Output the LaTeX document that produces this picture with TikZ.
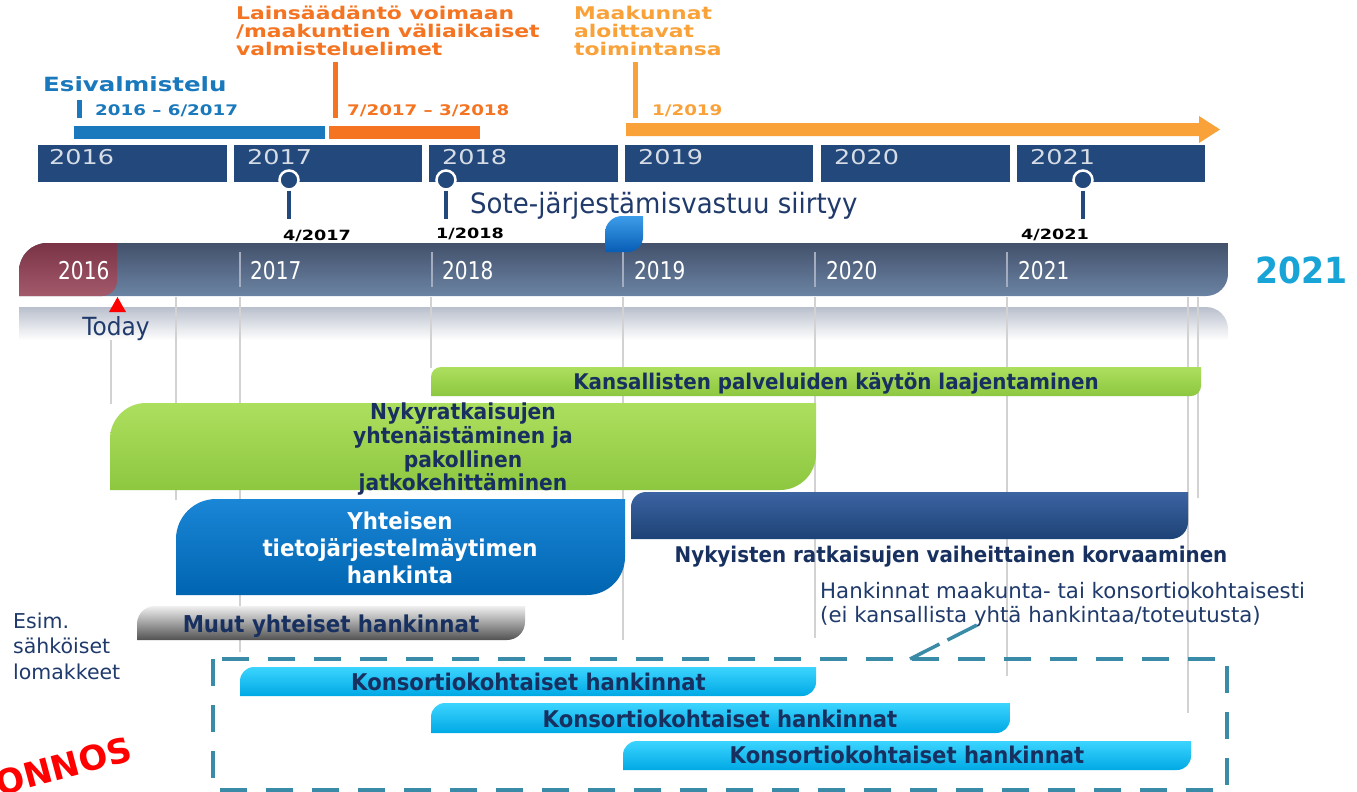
\documentclass[tikz,border=0pt]{standalone}
\usepackage{fontspec}
\setmainfont{DejaVu Sans}
\newfontfamily\topfont{DejaVu Sans}[FakeStretch=1.25]
\newfontfamily\condfont{DejaVu Sans}[FakeStretch=0.93]
\newfontfamily\barfont{DejaVu Sans}[FakeStretch=0.92]
\newfontfamily\narrowfont{DejaVu Sans}[FakeStretch=0.82]
\newfontfamily\bigfont{DejaVu Sans}[FakeStretch=0.92]
\definecolor{navy}{HTML}{17305F}
\definecolor{navytxt}{HTML}{1F3A6B}
\definecolor{topblue}{HTML}{1A78BC}
\definecolor{dorange}{HTML}{F47421}
\definecolor{lorange}{HTML}{F9A23A}
\definecolor{yearbox}{HTML}{23497C}
\definecolor{yeartxt}{HTML}{D6DCE6}
\definecolor{gridc}{HTML}{D2D2D2}
\definecolor{sepc}{HTML}{A3ADBF}
\definecolor{tlA}{HTML}{43516B}
\definecolor{tlB}{HTML}{6B84A4}
\definecolor{marA}{HTML}{7A3246}
\definecolor{marB}{HTML}{A35A6B}
\definecolor{reflA}{HTML}{B9BFCC}
\definecolor{grA}{HTML}{ADDF5E}
\definecolor{grB}{HTML}{8DC740}
\definecolor{blA}{HTML}{1A86D6}
\definecolor{blB}{HTML}{0065B1}
\definecolor{nvA}{HTML}{3C64A2}
\definecolor{nvM}{HTML}{24497F}
\definecolor{nvB}{HTML}{1D4276}
\definecolor{cyA}{HTML}{3CD4FF}
\definecolor{cyB}{HTML}{00A9E4}
\definecolor{leafA}{HTML}{3D9DE9}
\definecolor{leafB}{HTML}{075DB5}
\definecolor{dashc}{HTML}{3A8BA8}
\definecolor{bigc}{HTML}{19A4D8}
% bar with rounded top-left (r1) and bottom-right (r2) corners
% #1 style, #2 x1, #3 y1, #4 x2, #5 y2, #6 r1, #7 r2
\newcommand\leafbar[7]{\shade[#1] (#2,#5) -- (#2,#3+#6) .. controls (#2,#3+0.448*#6) and (#2+0.448*#6,#3) .. (#2+#6,#3) -- (#4,#3) -- (#4,#5-#7) .. controls (#4,#5-0.448*#7) and (#4-0.448*#7,#5) .. (#4-#7,#5) -- cycle;}
\tikzset{
  toplab/.style={inner sep=0pt, anchor=base west, font=\topfont\bfseries\fontsize{17.5}{20}\selectfont},
  datelab/.style={inner sep=0pt, anchor=base west, font=\topfont\bfseries\fontsize{14.6}{16}\selectfont},
  yearlab/.style={inner sep=0pt, anchor=base west, text=yeartxt, font=\topfont\fontsize{20.4}{22}\selectfont},
  pinlab/.style={inner sep=0pt, anchor=base west, text=black, font=\topfont\bfseries\fontsize{14.1}{16}\selectfont},
  tllab/.style={inner sep=0pt, anchor=base west, text=white, font=\narrowfont\fontsize{24.5}{26}\selectfont},
  bartxt/.style={inner sep=0pt, anchor=base, text=navy, font=\barfont\bfseries\fontsize{21.6}{24}\selectfont},
  bigtxt/.style={inner sep=0pt, anchor=base, text=white, font=\barfont\bfseries\fontsize{23.2}{26}\selectfont},
  konstxt/.style={inner sep=0pt, anchor=base, text=navy, font=\barfont\bfseries\fontsize{23}{25}\selectfont},
  plaintxt/.style={inner sep=0pt, anchor=base west, text=navytxt, font=\fontsize{21.3}{25}\selectfont},
  grid/.style={gridc, line width=1.5pt},
  pinhead/.style={circle, fill=yearbox, draw=white, line width=2.5pt, minimum size=19pt, inner sep=0pt},
  pinstem/.style={yearbox, line width=4.5pt},
  yrbox/.style={fill=yearbox},
  dashline/.style={dashc, line width=3.5pt}
}
\begin{document}
\begin{tikzpicture}[x=1pt,y=-1pt]
\useasboundingbox (0,0) rectangle (1357,792);
\fill[white] (0,0) rectangle (1357,792);

% ---------- top section ----------
\fill[topblue] (74,126) rectangle (325,139);
\fill[dorange] (329,126) rectangle (480,139);
\fill[lorange] (626,123) -- (1199,123) -- (1199,116) -- (1220,129.5) -- (1199,143) -- (1199,136) -- (626,136) -- cycle;
\fill[topblue] (77,100) rectangle (82,118);
\fill[dorange] (333,62) rectangle (338,118);
\fill[lorange] (633,62) rectangle (638,118);

\node[toplab, text=topblue, font=\topfont\bfseries\fontsize{19.6}{22}\selectfont] (esi) at (43,92) {Esivalmistelu};
\node[datelab, text=topblue] (d1) at (95,115) {2016 – 6/2017};
\node[datelab, text=dorange] (d2) at (347,115) {7/2017 – 3/2018};
\node[datelab, text=lorange] (d3) at (652,115) {1/2019};
\node[toplab, text=dorange] (la1) at (236,19.5) {Lainsäädäntö voimaan};
\node[toplab, text=dorange] (la2) at (236,37.5) {/maakuntien väliaikaiset};
\node[toplab, text=dorange] (la3) at (236,56) {valmisteluelimet};
\node[toplab, text=lorange] (ma1) at (574,19.5) {Maakunnat};
\node[toplab, text=lorange] (ma2) at (574,37.5) {aloittavat};
\node[toplab, text=lorange] (ma3) at (574,56) {toimintansa};

\fill[yrbox] (38,145) rectangle (227,182);
\fill[yrbox] (234,145) rectangle (422,182);
\fill[yrbox] (429,145) rectangle (618,182);
\fill[yrbox] (625,145) rectangle (813,182);
\fill[yrbox] (821,145) rectangle (1010,182);
\fill[yrbox] (1017,145) rectangle (1205,182);
\node[yearlab] (y16) at (49,164) {2016};
\node[yearlab] (y17) at (247,164) {2017};
\node[yearlab] (y18) at (442,164) {2018};
\node[yearlab] (y19) at (638,164) {2019};
\node[yearlab] (y20) at (834,164) {2020};
\node[yearlab] (y21) at (1030,164) {2021};

\coordinate (p1b) at (289,219);
\coordinate (p2b) at (446,219);
\coordinate (p3b) at (1083,219);
\node[pinhead] (p1) at (289,180) {};
\node[pinhead] (p2) at (446,180) {};
\node[pinhead] (p3) at (1083,180) {};
\draw[pinstem] (p1.south) -- (p1b);
\draw[pinstem] (p2.south) -- (p2b);
\draw[pinstem] (p3.south) -- (p3b);
\node[pinlab] (l1) at (283,240) {4/2017};
\node[pinlab] (l2) at (436,238) {1/2018};
\node[pinlab] (l3) at (1021,239) {4/2021};

\node[inner sep=0pt, anchor=base west, text=navytxt, font=\condfont\fontsize{28}{30}\selectfont] (sote) at (470,213) {Sote-järjestämisvastuu siirtyy};

% ---------- main timeline bar ----------
\shade[top color=reflA, bottom color=white] (19,307) -- (1206,307) .. controls (1218.1,307) and (1228,316.9) .. (1228,329) -- (1228,340) -- (19,340) -- cycle;
\leafbar{top color=tlA, bottom color=tlB}{19}{243}{1228}{296}{28}{22}
\leafbar{top color=marA, bottom color=marB}{19}{243}{117}{296}{28}{15}
\foreach \sx in {240,432,623,815,1007} \draw[sepc, line width=1.5pt] (\sx,252) -- (\sx,287);
\node[tllab] (t16) at (58,279) {2016};
\node[tllab] (t17) at (250,279) {2017};
\node[tllab] (t18) at (442,279) {2018};
\node[tllab] (t19) at (634,279) {2019};
\node[tllab] (t20) at (826,279) {2020};
\node[tllab] (t21) at (1018,279) {2021};
\leafbar{top color=leafA, bottom color=leafB}{605}{216}{643}{252}{17}{15}

\node[inner sep=0pt, anchor=base west, text=bigc, font=\bigfont\bfseries\fontsize{36}{38}\selectfont] (big) at (1255,283) {2021};

% ---------- grid lines ----------
\draw[grid] (111,340) -- (111,404);
\draw[grid] (176,297) -- (176,500);
\draw[grid] (240,297) -- (240,652);
\draw[grid] (431,297) -- (431,368);
\draw[grid] (623,297) -- (623,640);
\draw[grid] (815,297) -- (815,638);
\draw[grid] (1007,297) -- (1007,676);
\draw[grid] (1188,297) -- (1188,713);
\draw[grid] (1198,297) -- (1198,498);

\fill[red] (109,312) -- (126,312) -- (117.5,297) -- cycle;
\node[inner sep=0pt, anchor=base, text=navytxt, font=\condfont\fontsize{25}{27}\selectfont] (today) at (116,335) {Today};

% ---------- bars ----------
\leafbar{top color=grA, bottom color=grB}{431}{367}{1201}{396}{10}{10}
\node[bartxt] (kans) at (836,389) {Kansallisten palveluiden käytön laajentaminen};

\leafbar{top color=grA, bottom color=grB}{110}{403}{816}{490}{36}{36}
\node[bartxt, font=\barfont\bfseries\fontsize{22}{24}\selectfont] (ny1) at (463,419) {Nykyratkaisujen};
\node[bartxt, font=\barfont\bfseries\fontsize{22}{24}\selectfont] (ny2) at (463,443) {yhtenäistäminen ja};
\node[bartxt, font=\barfont\bfseries\fontsize{22}{24}\selectfont] (ny3) at (463,467) {pakollinen};
\node[bartxt, font=\barfont\bfseries\fontsize{22}{24}\selectfont] (ny4) at (463,490) {jatkokehittäminen};

\leafbar{top color=blA, bottom color=blB}{176}{499}{625}{595}{40}{38}
\node[bigtxt] (yh1) at (400,529) {Yhteisen};
\node[bigtxt] (yh2) at (400,556) {tietojärjestelmäytimen};
\node[bigtxt] (yh3) at (400,583) {hankinta};

\leafbar{top color=nvA, middle color=nvM, bottom color=nvB}{631}{492}{1188}{539}{15}{17}
\node[bartxt] (korv) at (951,562) {Nykyisten ratkaisujen vaiheittainen korvaaminen};

\leafbar{top color=gray!12, middle color=gray!62, bottom color=black!68}{137}{606}{525}{640}{18}{18}
\node[bartxt, font=\barfont\bfseries\fontsize{23.2}{25}\selectfont] (muut) at (331,632) {Muut yhteiset hankinnat};

\node[plaintxt, font=\fontsize{20.5}{24}\selectfont] (es1) at (13,628) {Esim.};
\node[plaintxt, font=\fontsize{20.5}{24}\selectfont] (es2) at (13,653) {sähköiset};
\node[plaintxt, font=\fontsize{20.5}{24}\selectfont] (es3) at (13,679) {lomakkeet};

\node[plaintxt] (ha1) at (820,598) {Hankinnat maakunta- tai konsortiokohtaisesti};
\node[plaintxt] (ha2) at (820,622) {(ei kansallista yhtä hankintaa/toteutusta)};

% ---------- dashed box ----------
\draw[dashline, dash pattern=on 27pt off 19pt] (213,659) rectangle (1227,790);
\coordinate (dA) at (910,659);
\coordinate (dB) at (981,623);
\draw[dashline, dash pattern=on 33pt off 9pt] (dA) -- (dB);

\leafbar{top color=cyA, bottom color=cyB}{240}{667}{816}{696}{14}{14}
\node[konstxt] (k1) at (528.5,690) {Konsortiokohtaiset hankinnat};
\leafbar{top color=cyA, bottom color=cyB}{431}{703}{1010}{733}{14}{14}
\node[konstxt] (k2) at (720,727) {Konsortiokohtaiset hankinnat};
\leafbar{top color=cyA, bottom color=cyB}{623}{741}{1191}{770}{14}{14}
\node[konstxt] (k3) at (907,763) {Konsortiokohtaiset hankinnat};

\node[rotate=15, inner sep=0pt, anchor=base east, text=red, font=\bfseries\fontsize{34}{36}\selectfont] (onnos) at (134,760) {ONNOS};
\end{tikzpicture}
\end{document}
